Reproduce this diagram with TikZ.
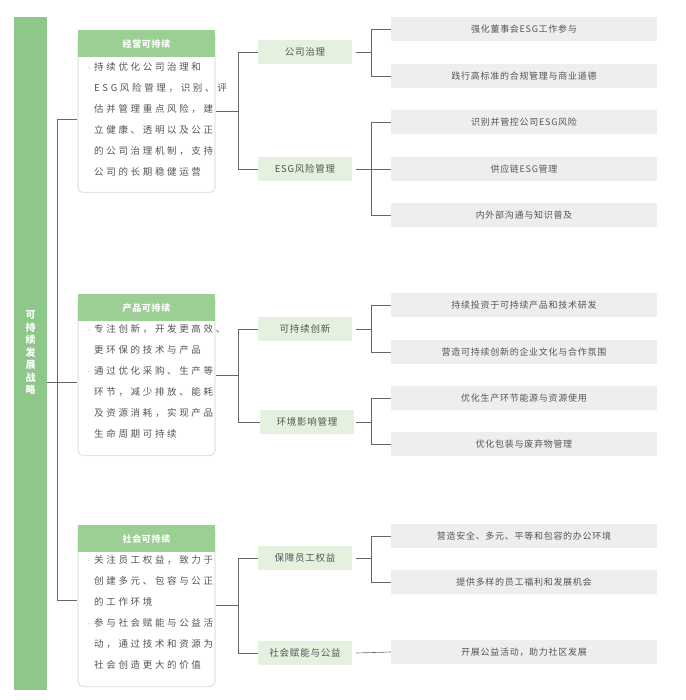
\documentclass[tikz,border=0pt]{standalone}
\usepackage{fontspec}
\setmainfont{Noto Sans CJK SC}
\newfontfamily\bodyfont[LetterSpace=28]{Noto Sans CJK SC}
\newfontfamily\headfont[LetterSpace=8]{Noto Sans CJK SC}
\definecolor{barGreen}{HTML}{8DC789}
\definecolor{headGreen}{HTML}{9BCF94}
\definecolor{midGreen}{HTML}{E3F1DE}
\definecolor{leafGray}{HTML}{EEEEEE}
\definecolor{textGray}{HTML}{555555}
\definecolor{lineGray}{HTML}{666666}
\definecolor{boxEdge}{HTML}{E0E8DC}
\tikzset{
  pillar/.style={draw=boxEdge, line width=1.2pt, rounded corners=5pt, fill=white,
    minimum width=137pt, anchor=north, inner sep=0pt},
  pillarhead/.style={fill=headGreen, minimum width=137pt, minimum height=27pt, inner sep=0pt,
    text=white, font=\headfont\fontsize{9}{11}\selectfont\bfseries, anchor=north},
  pillartext/.style={anchor=north west, align=left, inner sep=0pt, text=textGray,
    font=\bodyfont\fontsize{9.5}{21}\selectfont},
  midbox/.style={fill=midGreen, minimum width=94pt, minimum height=24pt, inner sep=0pt,
    text=textGray, font=\headfont\fontsize{9.5}{11}\selectfont},
  leaf/.style={fill=leafGray, minimum width=266pt, minimum height=24pt, inner sep=0pt,
    text=textGray, font=\headfont\fontsize{9}{11}\selectfont},
  link/.style={draw=lineGray, line width=0.6pt},
}
\newcommand{\dotmark}{\makebox[8pt][l]{\textcolor{headGreen}{\fontsize{6}{6}\selectfont•}}}
\begin{document}
\begin{tikzpicture}[x=1pt,y=-1pt]
\useasboundingbox (0,0) rectangle (685,700);

% left bar
\node[fill=barGreen, minimum width=33pt, minimum height=673pt, inner sep=0pt] (bar) at (30.5,353.5) {};
\node[text=white, align=center, font=\fontsize{10}{12.5}\selectfont\bfseries] (title) at (30.5,353) {可\\持\\续\\发\\展\\战\\略};

% pillars
\node[pillar, minimum height=162pt] (p1) at (146.5,30) {};
\node[pillarhead] (h1) at (146.5,30) {经营可持续};
\node[pillartext] (t1) at (86,62) {\dotmark 持续优化公司治理和\\\hspace*{8pt}ESG风险管理，识别、评\\\hspace*{8pt}估并管理重点风险，建\\\hspace*{8pt}立健康、透明以及公正\\\hspace*{8pt}的公司治理机制，支持\\\hspace*{8pt}公司的长期稳健运营};

\node[pillar, minimum height=161pt] (p2) at (146.5,294) {};
\node[pillarhead] (h2) at (146.5,294) {产品可持续};
\node[pillartext] (t2) at (86,324) {\dotmark 专注创新，开发更高效、\\\hspace*{8pt}更环保的技术与产品\\\dotmark 通过优化采购、生产等\\\hspace*{8pt}环节，减少排放、能耗\\\hspace*{8pt}及资源消耗，实现产品\\\hspace*{8pt}生命周期可持续};

\node[pillar, minimum height=161pt] (p3) at (146.5,525) {};
\node[pillarhead] (h3) at (146.5,525) {社会可持续};
\node[pillartext] (t3) at (86,555) {\dotmark 关注员工权益，致力于\\\hspace*{8pt}创建多元、包容与公正\\\hspace*{8pt}的工作环境\\\dotmark 参与社会赋能与公益活\\\hspace*{8pt}动，通过技术和资源为\\\hspace*{8pt}社会创造更大的价值};

% middle nodes
\node[midbox] (m1) at (305,52) {公司治理};
\node[midbox] (m2) at (305,169) {ESG风险管理};
\node[midbox] (m3) at (305,329) {可持续创新};
\node[midbox] (m4) at (307,422) {环境影响管理};
\node[midbox] (m5) at (305,558) {保障员工权益};
\node[midbox] (m6) at (305,653) {社会赋能与公益};

% leaves
\node[leaf] (l1) at (524,29) {强化董事会ESG工作参与};
\node[leaf] (l2) at (524,76) {践行高标准的合规管理与商业道德};
\node[leaf] (l3) at (524,122) {识别并管控公司ESG风险};
\node[leaf] (l4) at (524,169) {供应链ESG管理};
\node[leaf] (l5) at (524,215) {内外部沟通与知识普及};
\node[leaf] (l6) at (524,305) {持续投资于可持续产品和技术研发};
\node[leaf] (l7) at (524,352) {营造可持续创新的企业文化与合作氛围};
\node[leaf] (l8) at (524,398) {优化生产环节能源与资源使用};
\node[leaf] (l9) at (524,444) {优化包装与废弃物管理};
\node[leaf] (l10) at (524,536) {营造安全、多元、平等和包容的办公环境};
\node[leaf] (l11) at (524,582) {提供多样的员工福利和发展机会};
\node[leaf] (l12) at (524,652) {开展公益活动，助力社区发展};

% bar to pillars
\draw[link] (bar.east |- p2.west) ++(0,7) coordinate (bj) -- (p2.west |- bj);
\draw[link] (p1.west |- 0,119) -| (57,600) -- (p3.west |- 0,600);

% pillars to middle nodes
\draw[link] (p1.east |- 0,111) -- (238,111);
\draw[link] (m1.west) -| (238,169) -- (m2.west);
\draw[link] (p2.east |- 0,375) -- (238,375);
\draw[link] (m3.west) -| (238,422) -- (m4.west);
\draw[link] (p3.east |- 0,605) -- (238,605);
\draw[link] (m5.west) -| (238,653) -- (m6.west);

% middle nodes to leaves
\draw[link] (m1.east) ++(4,0) -- (371,52);
\draw[link] (l1.west) -| (371,76) -- (l2.west);
\draw[link] (m2.east) ++(4,0) -- (l4.west);
\draw[link] (l3.west) -| (371,215) -- (l5.west);
\draw[link] (m3.east) ++(4,0) -- (371,329);
\draw[link] (l6.west) -| (371,352) -- (l7.west);
\draw[link] (m4.east) ++(2,0) -- (371,422);
\draw[link] (l8.west) -| (371,444) -- (l9.west);
\draw[link] (m5.east) ++(4,0) -- (371,558);
\draw[link] (l10.west) -| (371,582) -- (l11.west);
\draw[link] (m6.east) ++(4,0) -- (l12.west);
\end{tikzpicture}
\end{document}
